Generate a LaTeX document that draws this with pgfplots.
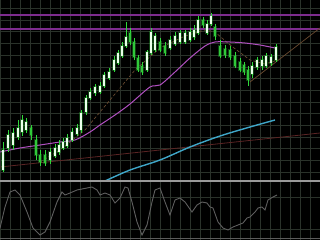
\documentclass[border=0pt]{standalone}
\usepackage{pgfplots}
\usepackage{pgfplotstable}
\pgfplotsset{compat=1.18}
\definecolor{gridc}{HTML}{2A322A}
\definecolor{wickc}{HTML}{2FD83A}
\definecolor{bearc}{HTML}{30C83A}
\definecolor{bullc}{HTML}{EAFFEA}
\definecolor{purp}{HTML}{7E2C8E}
\definecolor{maP}{HTML}{B050C0}
\definecolor{cyanl}{HTML}{3FA6C8}
\definecolor{redl}{HTML}{5A2424}
\definecolor{brownl}{HTML}{6A4A30}
\definecolor{oscc}{HTML}{5E5E5E}
\definecolor{sepc}{HTML}{9A9A9A}

% candles, in screen units of the chart (y grows downwards)
\pgfplotstableread{
x   bt  bb  wt  wb
3   150 170 142 172
8   135 148 130 152
13  133 145 128 150
18  128 137 120 140
22  120 132 115 136
26  122 130 118 133
50  152 160 148 164
55  148 156 144 158
59  145 152 140 155
63  142 148 138 150
67  138 146 134 148
72  132 140 128 142
77  128 134 124 136
81  113 130 110 133
86  98  112 95  115
90  92  98  88  100
95  87  93  84  96
100 86  92  82  94
104 75  86  72  88
109 72  78  68  80
114 60  70  56  72
118 53  63  50  65
122 46  56  42  58
126 37  46  22  48
147 52  70  50  72
151 32  53  28  55
155 36  50  33  52
170 40  48  36  50
175 36  44  32  46
180 33  42  30  44
185 33  42  30  44
190 32  40  28  42
194 30  37  25  40
198 20  33  16  35
207 24  33  20  35
211 16  24  13  26
252 66  74  62  78
257 60  67  57  70
262 60  66  56  70
266 56  66  53  68
271 57  63  54  66
276 47  60  44  62
}\bulls
\pgfplotstableread{
x   bt  bb  wt  wb
31  128 135 125 140
36  140 155 135 160
40  155 162 150 166
45  155 163 150 166
130 33  42  28  45
134 42  57  38  60
138 58  70  55  72
142 66  72  62  75
160 42  50  38  52
165 46  53  42  56
203 20  25  17  28
215 27  36  24  40
220 46  56  40  58
225 49  55  45  58
230 50  57  46  60
235 56  66  52  68
240 62  70  58  72
244 65  72  62  75
248 70  80  66  86
}\bears

\pgfplotsset{
  panel/.style={scale only axis, width=320bp, xmin=0, xmax=320, y dir=reverse,
    axis background/.style={fill=black}, axis line style={draw=none},
    xtick={0,10,...,320}, xticklabels={}, yticklabels={}, major tick length=0pt,
    tick label style={inner sep=0pt, outer sep=0pt, font=\tiny},
    grid=major, grid style={gridc, line width=0.6bp}, clip=true},
  wick/.style={draw=none, mark=none, forget plot,
    error bars/.cd, y dir=both, y explicit, error mark=none,
    error bar style={wickc, line width=0.8bp}},
  glow/.style={draw=none, mark=none, forget plot,
    error bars/.cd, y dir=both, y explicit, error mark=none,
    error bar style={wickc, opacity=0.3, line width=3.4bp}},
  body/.style={draw=none, mark=none, forget plot,
    error bars/.cd, y dir=both, y explicit, error mark=none,
    error bar style={#1, line width=2.2bp}},
}

\begin{document}
\begin{tikzpicture}
\fill[black] (0,0) rectangle (320bp,240bp);
% ---------------- main price panel ----------------
\begin{axis}[panel, at={(0,58bp)}, anchor=south west, height=182bp,
  ymin=0, ymax=182, ytick={8.3,20,...,180}]
% horizontal levels
\addplot[purp, line width=2bp] coordinates {(0,15) (320,15)};
\addplot[purp, line width=2bp] coordinates {(0,29) (320,29)};
% trend lines
\addplot[redl, line width=0.8bp] coordinates {(0,167) (320,133)};
\addplot[brownl, line width=0.7bp] coordinates {(250,82) (320,28)};
\addplot[brownl, line width=0.7bp, densely dashed] coordinates {
 (40,162) (60,150) (85,130) (110,100) (135,70) (160,48) (185,36) (205,30) (215,32) (230,45) (250,60) (265,64) (278,60)};
% slow MA (purple)
\addplot[maP, line width=1bp, smooth] coordinates {
 (0,152) (20,148) (40,145) (60,142) (75,140) (90,132) (100,125) (115,115) (130,104) (150,87) (160,85) (175,72) (190,58) (205,46) (215,42) (230,42) (245,43) (260,45) (275,48)};
% long MA (cyan)
\addplot[cyanl, line width=1.4bp, smooth] coordinates {
 (105,181) (130,170) (160,160) (190,147) (220,136) (250,127) (275,120)};
% candles
\addplot[glow] table[x=x, y expr={(\thisrow{bt}+\thisrow{bb})/2}, y error expr={(\thisrow{bb}-\thisrow{bt})/2+1}] {\bulls};
\addplot[glow] table[x=x, y expr={(\thisrow{bt}+\thisrow{bb})/2}, y error expr={(\thisrow{bb}-\thisrow{bt})/2+1}] {\bears};
\addplot[wick] table[x=x, y expr={(\thisrow{wt}+\thisrow{wb})/2}, y error expr={(\thisrow{wb}-\thisrow{wt})/2}] {\bulls};
\addplot[wick] table[x=x, y expr={(\thisrow{wt}+\thisrow{wb})/2}, y error expr={(\thisrow{wb}-\thisrow{wt})/2}] {\bears};
\addplot[body=bearc] table[x=x, y expr={(\thisrow{bt}+\thisrow{bb})/2}, y error expr={(\thisrow{bb}-\thisrow{bt})/2}] {\bears};
\addplot[body=bullc] table[x=x, y expr={(\thisrow{bt}+\thisrow{bb})/2}, y error expr={(\thisrow{bb}-\thisrow{bt})/2}] {\bulls};
% separator
\addplot[sepc, line width=1.6bp] coordinates {(0,181) (320,181)};
\end{axis}
% ---------------- oscillator panel ----------------
\begin{axis}[panel, at={(0,0)}, anchor=south west, height=58bp,
  ymin=182, ymax=240, ytick={197,229}]
\addplot[sepc!60!black, line width=1bp] coordinates {(0,238) (320,238)};
\addplot[oscc, line width=0.9bp] coordinates {
 (0,228) (5,207) (10,192) (15,190) (20,195) (27,212) (33,228) (40,235) (45,232) (50,222) (57,202) (62,192) (65,195) (70,193) (77,190) (87,188) (92,187) (97,190) (100,195) (105,193) (110,195) (115,203) (120,198) (125,187) (128,188) (132,202) (137,222) (142,235) (147,225) (152,202) (155,190) (160,188) (165,202) (170,215) (175,200) (180,198) (185,202) (192,212) (197,205) (202,202) (207,203) (210,207) (213,208) (218,222) (223,228) (228,230) (233,227) (238,225) (243,223) (247,218) (250,217) (255,212) (258,208) (262,207) (265,210) (268,200) (273,197) (277,195)};
\end{axis}
\pgfresetboundingbox
\useasboundingbox (0,0) rectangle (320bp,240bp);
\end{tikzpicture}
\end{document}
